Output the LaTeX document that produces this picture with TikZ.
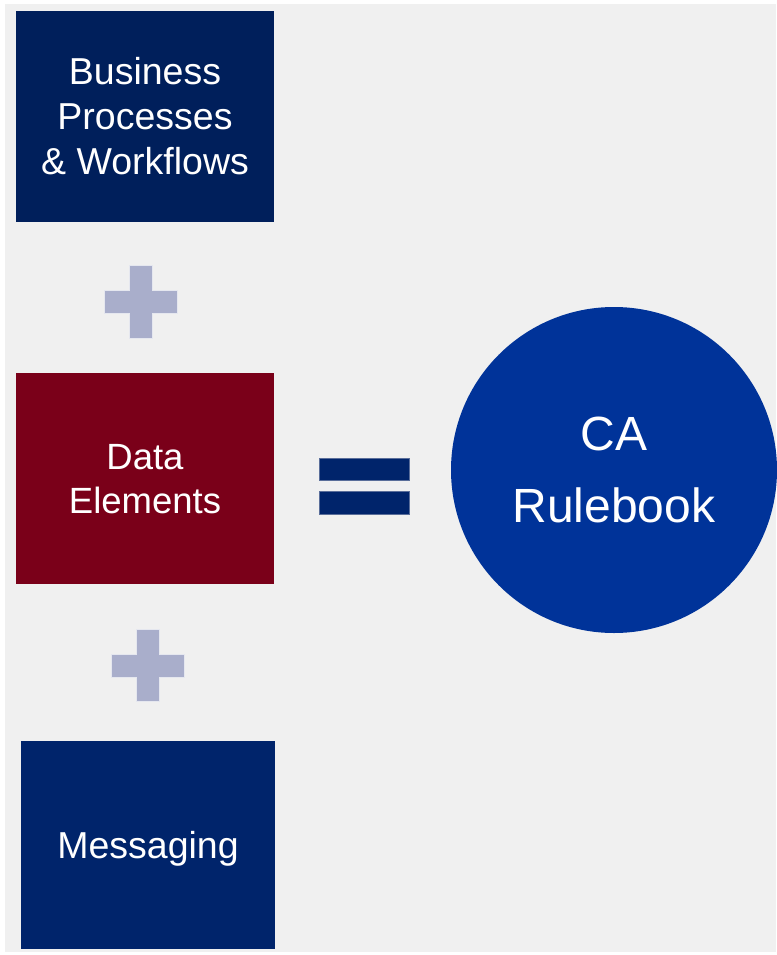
\documentclass[tikz,border=0pt]{standalone}
\usepackage{fontspec}
\setmainfont{Liberation Sans}
\definecolor{bgray}{HTML}{F0F0F0}
\definecolor{navyA}{HTML}{001F5B}
\definecolor{navyB}{HTML}{00246B}
\definecolor{wine}{HTML}{7A0019}
\definecolor{royal}{HTML}{003399}
\definecolor{plusc}{HTML}{A9AECB}
\definecolor{eqborder}{HTML}{5A6E9A}
\begin{document}
\begin{tikzpicture}[x=1pt,y=-1pt,
  box/.style={rectangle, inner sep=0pt, text=white, align=center},
  boxtext/.style={font=\fontsize{37.5pt}{45pt}\selectfont},
  plusbar/.style={fill=plusc, draw=white!70!plusc, line width=0.6pt},
  eqbar/.style={fill=navyB, draw=eqborder, line width=0.6pt}]
\useasboundingbox (0,0) rectangle (776,955);
\fill[white] (0,0) rectangle (776,955);
\fill[bgray] (5,4) rectangle (776,952);
% boxes
\node[box, boxtext, fill=navyA, minimum width=258pt, minimum height=211pt] (bp) at (145,116.5) {Business\\Processes\\\& Workflows};
\node[box, font=\fontsize{36.5pt}{44pt}\selectfont, fill=wine, minimum width=258pt, minimum height=211pt, text depth=0pt] (de) at (145,478.5) {Data\\Elements};
\node[box, boxtext, fill=navyB, minimum width=254pt, minimum height=208pt, text depth=0pt] (msg) at (148,845) {Messaging};
% circle
\node[circle, inner sep=0pt, minimum size=326pt, fill=royal, text=white, align=center, font=\fontsize{48pt}{72pt}\selectfont] (ca) at (614,470) {CA\\Rulebook};
% plus signs
\path[plusbar] (129,265) -- (152,265) -- (152,290) -- (177,290) -- (177,313) -- (152,313) -- (152,338) -- (129,338) -- (129,313) -- (104,313) -- (104,290) -- (129,290) -- cycle;
\path[plusbar] (136,629) -- (159,629) -- (159,654) -- (184,654) -- (184,677) -- (159,677) -- (159,701) -- (136,701) -- (136,677) -- (111,677) -- (111,654) -- (136,654) -- cycle;
% equals
\path[eqbar] (319,458) rectangle (409,480);
\path[eqbar] (319,491) rectangle (409,514);
\end{tikzpicture}
\end{document}
